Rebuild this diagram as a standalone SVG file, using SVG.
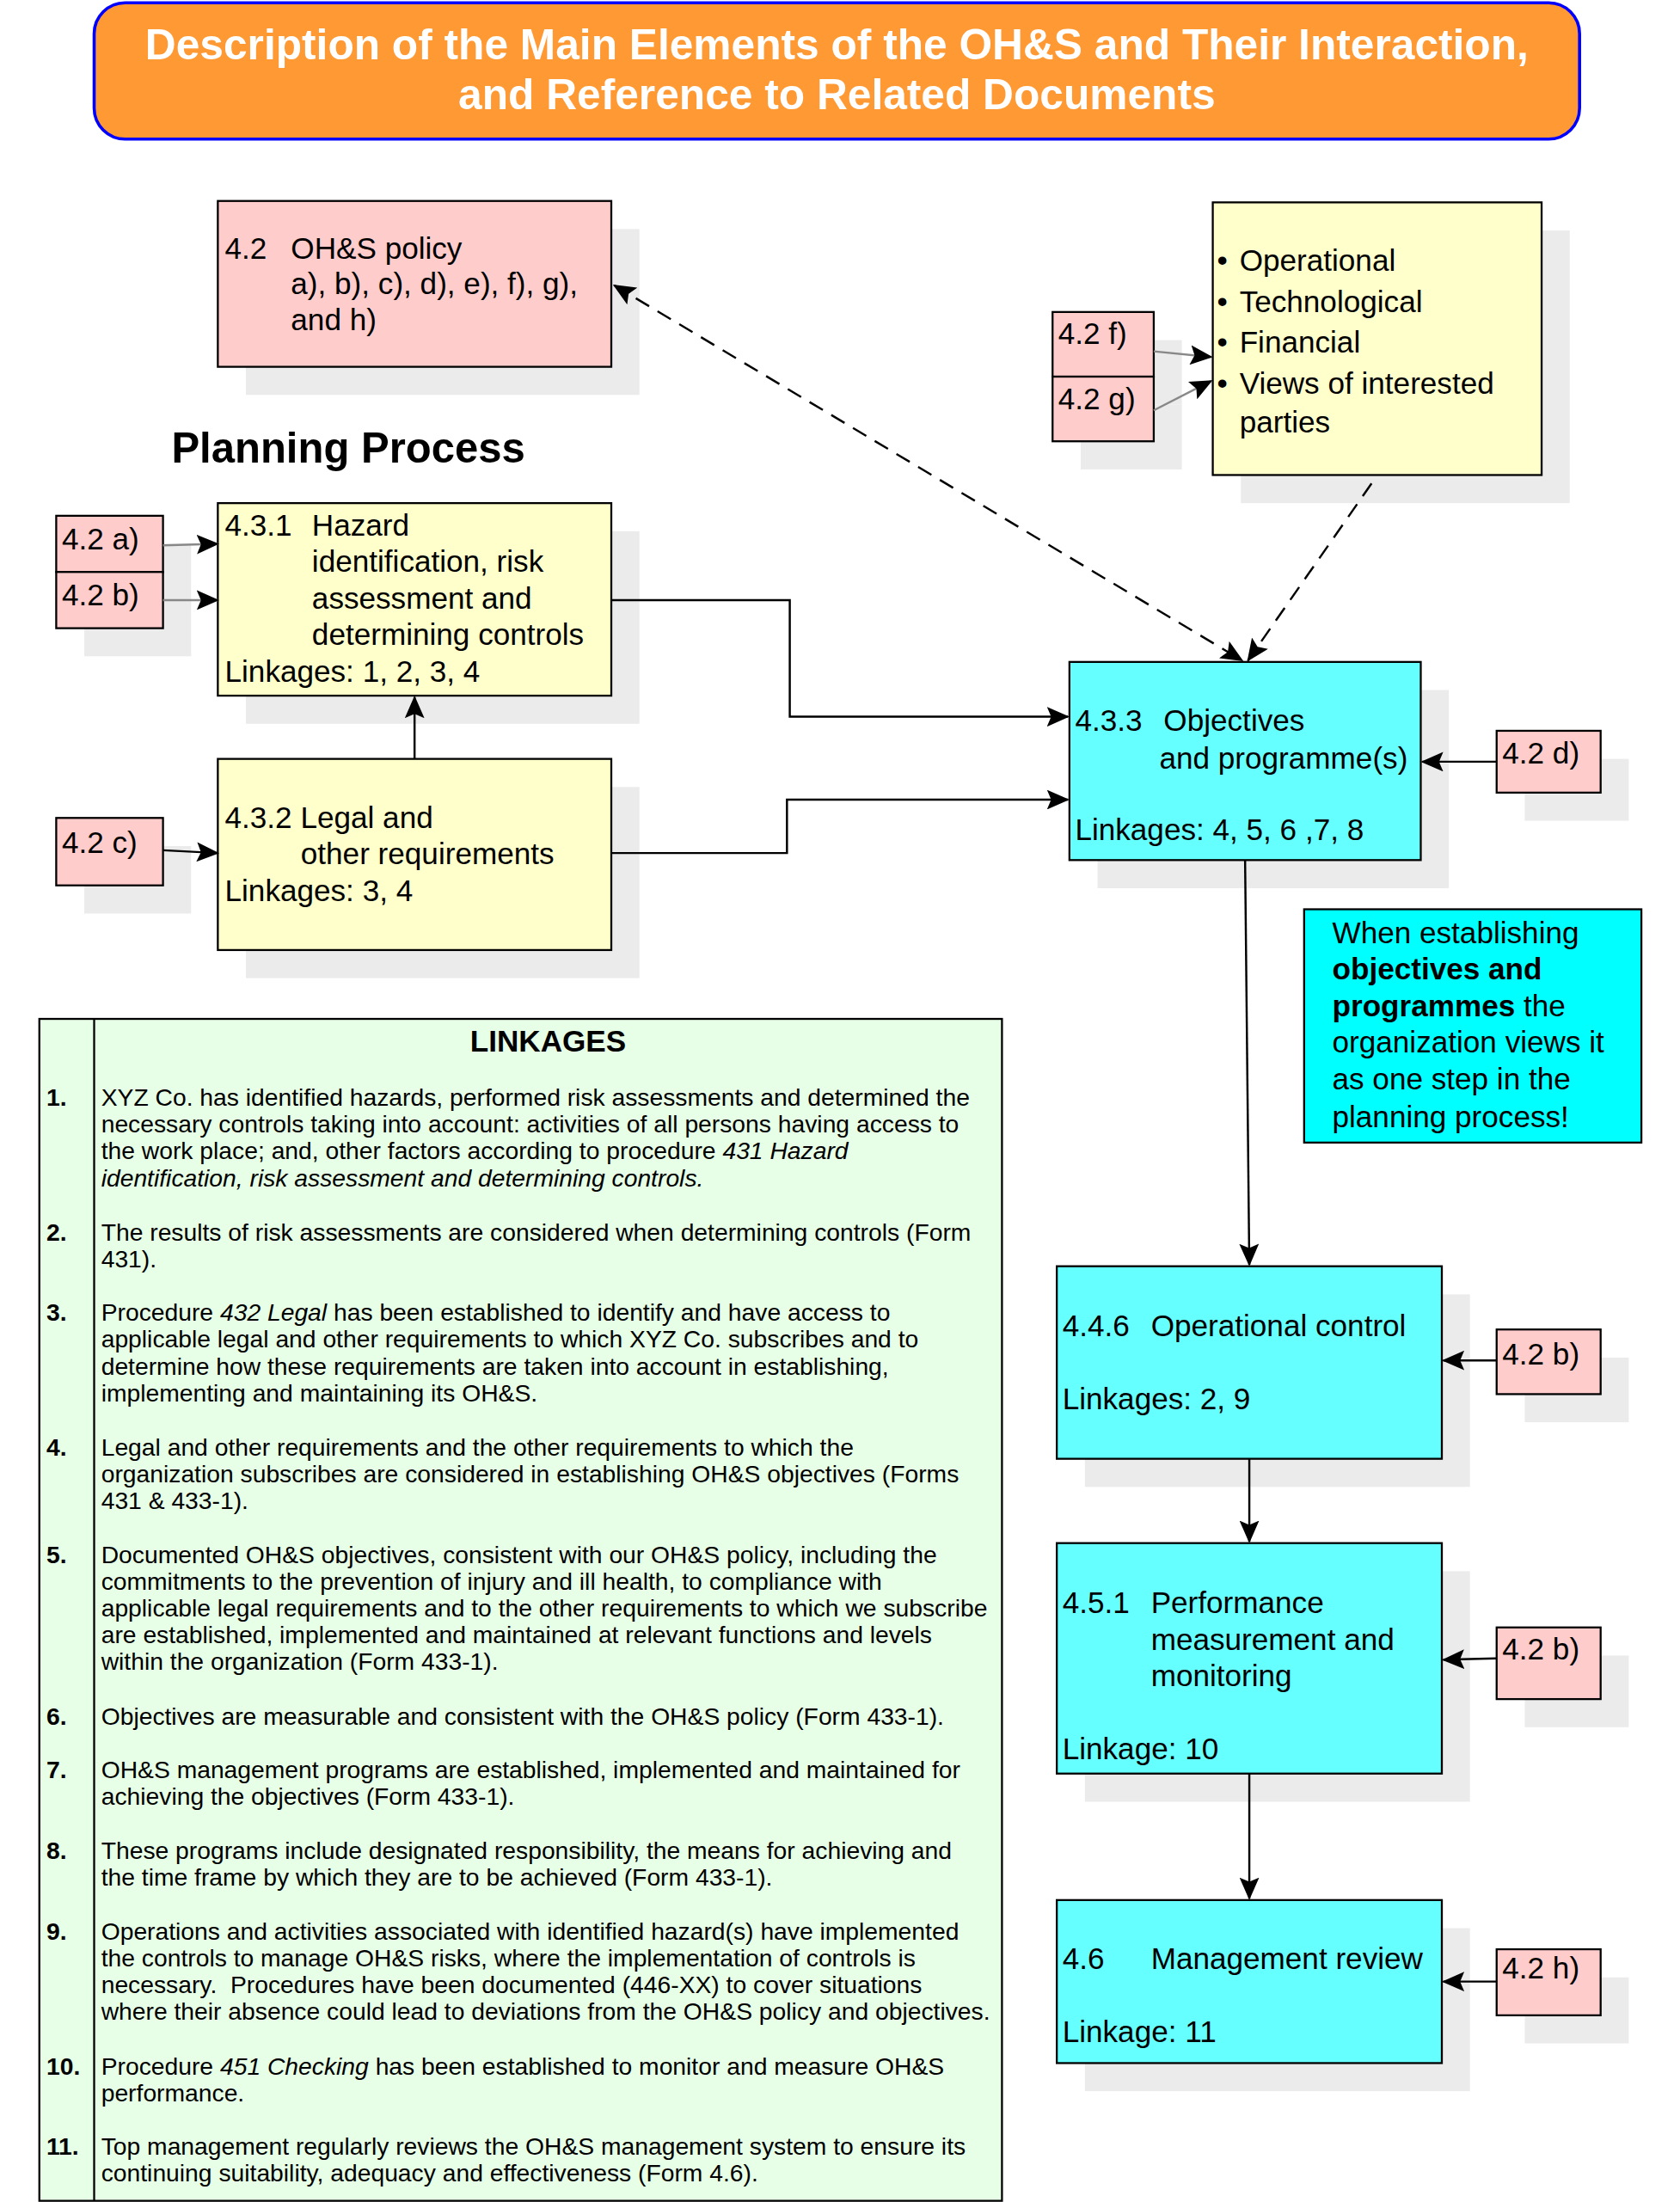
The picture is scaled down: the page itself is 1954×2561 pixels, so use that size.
<svg xmlns="http://www.w3.org/2000/svg" width="1954" height="2561" viewBox="0 0 1954 2561">
<defs>
<style>
text{font-family:"Liberation Sans",Arial,"DejaVu Sans",sans-serif;fill:#000}
.t{font-size:21.5px}
.lk{font-size:17.3px}
.num{font-size:17.3px;font-weight:bold}
.it{font-style:italic}
.b{font-weight:bold}
.wt{fill:#fff}
.box{stroke:#000;stroke-width:1.4}
.pink{fill:#FFCCCC}
.yel{fill:#FFFFCC}
.cyan{fill:#66FFFF}
.sh{fill:#EBEBEB}
.con{fill:none;stroke:#000;stroke-width:1.5;marker-end:url(#ah)}
.gray{stroke:#888}
.dash{stroke-dasharray:11 7}
</style>
<marker id="ah" viewBox="0 0 16 14" markerWidth="16" markerHeight="14" refX="15" refY="7" orient="auto-start-reverse" markerUnits="userSpaceOnUse"><path d="M0,0 L16,7 L0,14 L3,7 Z" fill="#000"/></marker>
</defs>
<rect width="1954" height="2561" fill="#fff"/>
<g transform="scale(1.6345)">
<g id="title">
<rect x="67" y="2" width="1057" height="97" rx="22" fill="#FF9933" stroke="#0000FF" stroke-width="2.2"/>
<text class="wt b" x="595.5" y="42" text-anchor="middle" font-size="30.4">Description of the Main Elements of the OH&amp;S and Their Interaction,</text>
<text class="wt b" x="595.5" y="78" text-anchor="middle" font-size="30.4">and Reference to Related Documents</text>
</g>
<g id="policy">
<rect class="sh" x="175" y="163" width="280" height="118"/>
<rect class="box pink" x="155" y="143" width="280" height="118"/>
<text class="t" x="160" y="184">4.2</text>
<text class="t" x="207" y="184">OH&amp;S policy</text>
<text class="t" x="207" y="209">a), b), c), d), e), f), g),</text>
<text class="t" x="207" y="235">and h)</text>
</g>
<g id="planning-label">
<text class="b" x="122" y="329" font-size="30">Planning Process</text>
</g>
<g id="factors">
<rect class="sh" x="883" y="164" width="234" height="194"/>
<rect class="box yel" x="863" y="144" width="234" height="194"/>
<text class="t" x="866" y="193">•</text><text class="t" x="882" y="193">Operational</text>
<text class="t" x="866" y="222">•</text><text class="t" x="882" y="222">Technological</text>
<text class="t" x="866" y="251">•</text><text class="t" x="882" y="251">Financial</text>
<text class="t" x="866" y="280">•</text><text class="t" x="882" y="280">Views of interested</text>
<text class="t" x="882" y="308">parties</text>
</g>
<g id="ref-f">
<rect class="sh" x="769" y="242" width="72" height="46"/>
<rect class="box pink" x="749" y="222" width="72" height="46"/>
<text class="t" x="753" y="245">4.2 f)</text>
</g>
<g id="ref-g">
<rect class="sh" x="769" y="288" width="72" height="46"/>
<rect class="box pink" x="749" y="268" width="72" height="46"/>
<text class="t" x="753" y="291">4.2 g)</text>
</g>
<g id="ref-a">
<rect class="sh" x="60" y="387" width="76" height="40"/>
<rect class="box pink" x="40" y="367" width="76" height="40"/>
<text class="t" x="44" y="391">4.2 a)</text>
</g>
<g id="ref-b1">
<rect class="sh" x="60" y="427" width="76" height="40"/>
<rect class="box pink" x="40" y="407" width="76" height="40"/>
<text class="t" x="44" y="431">4.2 b)</text>
</g>
<g id="hazard">
<rect class="sh" x="175" y="378" width="280" height="137"/>
<rect class="box yel" x="155" y="358" width="280" height="137"/>
<text class="t" x="160" y="381">4.3.1</text>
<text class="t" x="222" y="381">Hazard</text>
<text class="t" x="222" y="407">identification, risk</text>
<text class="t" x="222" y="433">assessment and</text>
<text class="t" x="222" y="459">determining controls</text>
<text class="t" x="160" y="485">Linkages: 1, 2, 3, 4</text>
</g>
<g id="legal">
<rect class="sh" x="175" y="560" width="280" height="136"/>
<rect class="box yel" x="155" y="540" width="280" height="136"/>
<text class="t" x="160" y="589">4.3.2 Legal and</text>
<text class="t" x="214" y="615">other requirements</text>
<text class="t" x="160" y="641">Linkages: 3, 4</text>
</g>
<g id="ref-c">
<rect class="sh" x="60" y="602" width="76" height="48"/>
<rect class="box pink" x="40" y="582" width="76" height="48"/>
<text class="t" x="44" y="607">4.2 c)</text>
</g>
<g id="objectives">
<rect class="sh" x="781" y="491" width="250" height="141"/>
<rect class="box cyan" x="761" y="471" width="250" height="141"/>
<text class="t" x="765" y="520">4.3.3</text>
<text class="t" x="828" y="520">Objectives</text>
<text class="t" x="825" y="547">and programme(s)</text>
<text class="t" x="765" y="598">Linkages: 4, 5, 6 ,7, 8</text>
</g>
<g id="ref-d">
<rect class="sh" x="1085" y="540" width="74" height="44"/>
<rect class="box pink" x="1065" y="520" width="74" height="44"/>
<text class="t" x="1069" y="543">4.2 d)</text>
</g>
<g id="note">
<rect class="box" x="928" y="647" width="240" height="166" fill="#00FFFF"/>
<text class="t" x="948" y="671">When establishing</text>
<text class="t b" x="948" y="697">objectives and</text>
<text class="t" x="948" y="723"><tspan class="b">programmes</tspan> the</text>
<text class="t" x="948" y="749">organization views it</text>
<text class="t" x="948" y="775">as one step in the</text>
<text class="t" x="948" y="802">planning process!</text>
</g>
<g id="operational">
<rect class="sh" x="772" y="921" width="274" height="137"/>
<rect class="box cyan" x="752" y="901" width="274" height="137"/>
<text class="t" x="756" y="951">4.4.6</text>
<text class="t" x="819" y="951">Operational control</text>
<text class="t" x="756" y="1003">Linkages: 2, 9</text>
</g>
<g id="ref-b2">
<rect class="sh" x="1085" y="966" width="74" height="46"/>
<rect class="box pink" x="1065" y="946" width="74" height="46"/>
<text class="t" x="1069" y="971">4.2 b)</text>
</g>
<g id="performance">
<rect class="sh" x="772" y="1118" width="274" height="164"/>
<rect class="box cyan" x="752" y="1098" width="274" height="164"/>
<text class="t" x="756" y="1148">4.5.1</text>
<text class="t" x="819" y="1148">Performance</text>
<text class="t" x="819" y="1174">measurement and</text>
<text class="t" x="819" y="1200">monitoring</text>
<text class="t" x="756" y="1252">Linkage: 10</text>
</g>
<g id="ref-b3">
<rect class="sh" x="1085" y="1178" width="74" height="51"/>
<rect class="box pink" x="1065" y="1158" width="74" height="51"/>
<text class="t" x="1069" y="1181">4.2 b)</text>
</g>
<g id="review">
<rect class="sh" x="772" y="1372" width="274" height="116"/>
<rect class="box cyan" x="752" y="1352" width="274" height="116"/>
<text class="t" x="756" y="1401">4.6</text>
<text class="t" x="819" y="1401">Management review</text>
<text class="t" x="756" y="1453">Linkage: 11</text>
</g>
<g id="ref-h">
<rect class="sh" x="1085" y="1407" width="74" height="47"/>
<rect class="box pink" x="1065" y="1387" width="74" height="47"/>
<text class="t" x="1069" y="1408">4.2 h)</text>
</g>
<g id="linkages">
<rect class="box" x="28" y="725" width="685" height="841" fill="#E6FFE6"/>
<line x1="67" y1="725" x2="67" y2="1566" stroke="#000" stroke-width="1.4"/>
<text class="b" x="390" y="748" font-size="21.5" text-anchor="middle">LINKAGES</text>
<text class="num" x="33" y="787">1.</text>
<text class="lk" x="72" y="787">XYZ Co. has identified hazards, performed risk assessments and determined the</text>
<text class="lk" x="72" y="806">necessary controls taking into account: activities of all persons having access to</text>
<text class="lk" x="72" y="825">the work place; and, other factors according to procedure <tspan class="it">431 Hazard</tspan></text>
<text class="lk it" x="72" y="844">identification, risk assessment and determining controls.</text>
<text class="num" x="33" y="883">2.</text>
<text class="lk" x="72" y="883">The results of risk assessments are considered when determining controls (Form</text>
<text class="lk" x="72" y="902">431).</text>
<text class="num" x="33" y="940">3.</text>
<text class="lk" x="72" y="940">Procedure <tspan class="it">432 Legal</tspan> has been established to identify and have access to</text>
<text class="lk" x="72" y="959">applicable legal and other requirements to which XYZ Co. subscribes and to</text>
<text class="lk" x="72" y="978">determine how these requirements are taken into account in establishing,</text>
<text class="lk" x="72" y="997">implementing and maintaining its OH&amp;S.</text>
<text class="num" x="33" y="1036">4.</text>
<text class="lk" x="72" y="1036">Legal and other requirements and the other requirements to which the</text>
<text class="lk" x="72" y="1055">organization subscribes are considered in establishing OH&amp;S objectives (Forms</text>
<text class="lk" x="72" y="1074">431 &amp; 433-1).</text>
<text class="num" x="33" y="1112">5.</text>
<text class="lk" x="72" y="1112">Documented OH&amp;S objectives, consistent with our OH&amp;S policy, including the</text>
<text class="lk" x="72" y="1131">commitments to the prevention of injury and ill health, to compliance with</text>
<text class="lk" x="72" y="1150">applicable legal requirements and to the other requirements to which we subscribe</text>
<text class="lk" x="72" y="1169">are established, implemented and maintained at relevant functions and levels</text>
<text class="lk" x="72" y="1188">within the organization (Form 433-1).</text>
<text class="num" x="33" y="1227">6.</text>
<text class="lk" x="72" y="1227">Objectives are measurable and consistent with the OH&amp;S policy (Form 433-1).</text>
<text class="num" x="33" y="1265">7.</text>
<text class="lk" x="72" y="1265">OH&amp;S management programs are established, implemented and maintained for</text>
<text class="lk" x="72" y="1284">achieving the objectives (Form 433-1).</text>
<text class="num" x="33" y="1323">8.</text>
<text class="lk" x="72" y="1323">These programs include designated responsibility, the means for achieving and</text>
<text class="lk" x="72" y="1342">the time frame by which they are to be achieved (Form 433-1).</text>
<text class="num" x="33" y="1380">9.</text>
<text class="lk" x="72" y="1380">Operations and activities associated with identified hazard(s) have implemented</text>
<text class="lk" x="72" y="1399">the controls to manage OH&amp;S risks, where the implementation of controls is</text>
<text class="lk" x="72" y="1418" xml:space="preserve">necessary.  Procedures have been documented (446-XX) to cover situations</text>
<text class="lk" x="72" y="1437">where their absence could lead to deviations from the OH&amp;S policy and objectives.</text>
<text class="num" x="33" y="1476">10.</text>
<text class="lk" x="72" y="1476">Procedure <tspan class="it">451 Checking</tspan> has been established to monitor and measure OH&amp;S</text>
<text class="lk" x="72" y="1495">performance.</text>
<text class="num" x="33" y="1533">11.</text>
<text class="lk" x="72" y="1533">Top management regularly reviews the OH&amp;S management system to ensure its</text>
<text class="lk" x="72" y="1552">continuing suitability, adequacy and effectiveness (Form 4.6).</text>
</g>
<g id="connectors">
<path class="con gray" d="M116,388 L155,387"/>
<path class="con gray" d="M116,427 L155,427"/>
<path class="con" d="M116,605 L155,607"/>
<path class="con gray" d="M821,250 L862,254"/>
<path class="con gray" d="M821,292 L862,271"/>
<path class="con" d="M295,540 L295,496"/>
<path class="con" d="M435,427 L562,427 L562,510 L760,510"/>
<path class="con" d="M435,607 L560,607 L560,569 L760,569"/>
<path class="con dash" d="M437,203 L884,470" style="marker-start:url(#ah)"/>
<path class="con dash" d="M976,344 L888,470"/>
<path class="con" d="M1065,542 L1012,542"/>
<path class="con" d="M886,612 L889,900"/>
<path class="con" d="M1065,968 L1027,968"/>
<path class="con" d="M889,1038 L889,1097"/>
<path class="con" d="M1065,1180 L1027,1181"/>
<path class="con" d="M889,1262 L889,1351"/>
<path class="con" d="M1065,1410 L1027,1410"/>
</g>
</g>
</svg>
